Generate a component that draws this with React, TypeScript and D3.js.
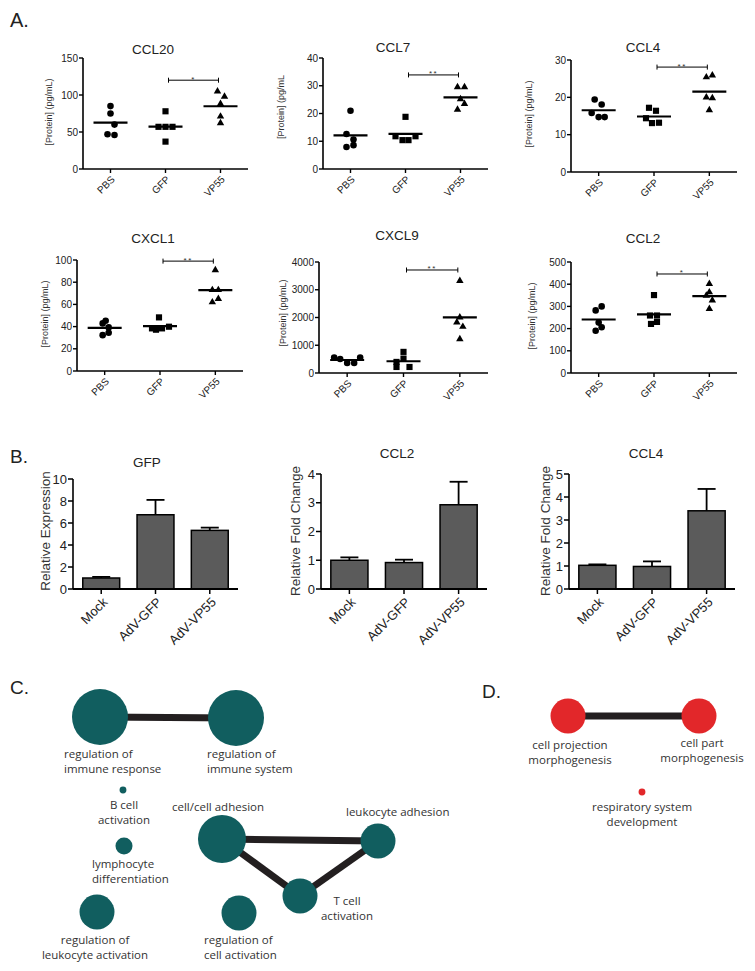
import React from 'react';
import * as d3 from 'd3';

// ---------------- DATA ----------------
// Panel A: cytokine protein levels (pg/mL), 5 mice per group
const groupsA = ['PBS', 'GFP', 'VP55'];
const titlesA = ['CCL20', 'CCL7', 'CCL4', 'CXCL1', 'CXCL9', 'CCL2'];
const yLabelsA = ['[Protein] (pg/mL)', '[Protein] (pg/mL', '[Protein] (pg/mL)', '[Protein] (pg/mL)', '[Protein] (pg/mL)', '[Protein] (pg/mL)'];
const yMaxA = [150, 40, 30, 100, 4000, 500];
const yStepA = [50, 10, 10, 20, 1000, 100];
const sigLevelA = [120, 33.9, 28.1, 99, 3712, 446];
const sigStarsA = ['*', '**', '**', '**', '**', '*'];

const ccl20PBS = [85, 75, 60, 47, 46];
const ccl20GFP = [78, 57, 57, 57, 37];
const ccl20VP55 = [105, 98, 88, 71, 62];
const ccl7PBS = [21, 12.6, 10.6, 8.6, 7.9];
const ccl7GFP = [18.8, 11.8, 10.4, 10.4, 11.8];
const ccl7VP55 = [29.5, 29.5, 25.2, 23.5, 21.4];
const ccl4PBS = [19.4, 18.1, 15.8, 14.7, 14.7];
const ccl4GFP = [17.2, 16.4, 14.4, 13.1, 13.2];
const ccl4VP55 = [25.4, 25.9, 20, 19.8, 16.6];
const cxcl1PBS = [45.3, 42.9, 39.3, 34.4, 32.3];
const cxcl1GFP = [48.3, 38.4, 37.2, 38.4, 39.9];
const cxcl1VP55 = [91, 73, 73, 65, 62];
const cxcl9PBS = [556, 507, 362, 362, 556];
const cxcl9GFP = [761, 399, 520, 217, 217];
const cxcl9VP55 = [3323, 2005, 1824, 1668, 1220];
const ccl2PBS = [282, 300, 227, 206, 190];
const ccl2GFP = [351, 259, 259, 221, 230];
const ccl2VP55 = [402, 364, 349, 327, 289];

const valuesA = [
  [ccl20PBS, ccl20GFP, ccl20VP55],
  [ccl7PBS, ccl7GFP, ccl7VP55],
  [ccl4PBS, ccl4GFP, ccl4VP55],
  [cxcl1PBS, cxcl1GFP, cxcl1VP55],
  [cxcl9PBS, cxcl9GFP, cxcl9VP55],
  [ccl2PBS, ccl2GFP, ccl2VP55],
];

// Panel B: qPCR relative expression
const groupsB = ['Mock', 'AdV-GFP', 'AdV-VP55'];
const titlesB = ['GFP', 'CCL2', 'CCL4'];
const yLabelsB = ['Relative Expression', 'Relative Fold Change', 'Relative Fold Change'];
const yMaxB = [10, 4, 5];
const yStepB = [2, 1, 1];
const gfpMean = [1.0, 6.75, 5.33];
const gfpErr = [0.1, 1.35, 0.25];
const ccl2Mean = [1.0, 0.92, 2.93];
const ccl2Err = [0.1, 0.1, 0.8];
const ccl4Mean = [1.03, 0.98, 3.4];
const ccl4Err = [0.04, 0.22, 0.95];
const meansB = [gfpMean, ccl2Mean, ccl4Mean];
const errsB = [gfpErr, ccl2Err, ccl4Err];

// Panels C & D: GO-term networks
const netIds = ['immResp', 'immSys', 'bCell', 'lymph', 'leukAct', 'cellAdh', 'leukAdh', 'tCell', 'cellAct', 'projMorph', 'partMorph', 'resp'];
const netLabels = [
  ['regulation of', 'immune response'],
  ['regulation of', 'immune system'],
  ['B cell', 'activation'],
  ['lymphocyte', 'differentiation'],
  ['regulation of', 'leukocyte activation'],
  ['cell/cell adhesion'],
  ['leukocyte adhesion'],
  ['T cell', 'activation'],
  ['regulation of', 'cell activation'],
  ['cell projection', 'morphogenesis'],
  ['cell part', 'morphogenesis'],
  ['respiratory system', 'development'],
];
const netSizes = [40, 40, 0.6, 3.7, 15.6, 29.4, 15.6, 15.6, 15.6, 15.6, 15.6, 0.6];
const netGroups = ['C', 'C', 'C', 'C', 'C', 'C', 'C', 'C', 'C', 'D', 'D', 'D'];
const netEdges = [['immResp', 'immSys'], ['cellAdh', 'leukAdh'], ['cellAdh', 'tCell'], ['tCell', 'leukAdh'], ['projMorph', 'partMorph']];

// ---------------- LAYOUT / STYLE ----------------
const FONT = 'Liberation Sans, Arial, sans-serif';
const FONT_NET = 'Open Sans, sans-serif';
const TEAL = '#115e5f';
const RED = '#e2272a';
const EDGE = '#231f20';
const BAR = '#5b5b5b';

const layoutA = [
  { x0: 83, x1: 248, yTop: 58, y0: 169, tx: 153, ty: 54, lx: 52, ly: 112 },
  { x0: 323, x1: 488, yTop: 58, y0: 169, tx: 393, ty: 52, lx: 284, ly: 107 },
  { x0: 571, x1: 737, yTop: 60, y0: 172, tx: 643, ty: 52, lx: 532, ly: 114 },
  { x0: 77, x1: 243, yTop: 260, y0: 371, tx: 153, ty: 243, lx: 48, ly: 314 },
  { x0: 319, x1: 488, yTop: 262, y0: 373, tx: 397, ty: 240, lx: 286, ly: 313 },
  { x0: 571, x1: 737, yTop: 262, y0: 373, tx: 643, ty: 243, lx: 535, ly: 316 },
];
// horizontal spread (px) of overlapping points
const jitterA = [
  [[0, 0, 4, -3, 4], [0, -7, 0, 7, 0], [-3, 4, 0, 0, 0]],
  [[0, -4, 3, 3, -4], [0, -10, -3, 3, 10], [-3, 4, 0, 4, -3]],
  [[-4, 3, -7, 0, 6], [-5, 2, -8, -2, 5], [-3, 3, -3, 3, 0]],
  [[1, -2, 4, 4, -2], [-1, -8, -4, 2, 9], [0, -3, 3, 3, -3]],
  [[-13, -7, 0, 7, 13], [0, -7, 0, -7, 6], [0, 0, -3, 3, 0]],
  [[-3, 3, 0, 3, -3], [0, -4, 3, -3, 3], [0, 0, -3, 3, 0]],
];

const layoutB = [
  { x0: 73, x1: 238, yTop: 479, y0: 589, tx: 147, ty: 467, lx: 50, ly: 531 },
  { x0: 321, x1: 487, yTop: 474, y0: 589, tx: 397, ty: 458, lx: 300, ly: 531 },
  { x0: 569, x1: 735, yTop: 474, y0: 589, tx: 646, ty: 458, lx: 550, ly: 531 },
];

const netLayout: Record<string, { x: number; y: number; anchor: string; lx: number; ly: number }> = {
  immResp: { x: 100, y: 717, anchor: 'start', lx: 64, ly: 758 },
  immSys: { x: 236, y: 718, anchor: 'start', lx: 207, ly: 758 },
  bCell: { x: 123, y: 790, anchor: 'middle', lx: 124, ly: 809 },
  lymph: { x: 124, y: 846, anchor: 'start', lx: 92, ly: 868 },
  leukAct: { x: 97, y: 912, anchor: 'middle', lx: 95, ly: 944 },
  cellAdh: { x: 222, y: 839, anchor: 'middle', lx: 218, ly: 811 },
  leukAdh: { x: 378, y: 841, anchor: 'start', lx: 346, ly: 816 },
  tCell: { x: 300, y: 896, anchor: 'middle', lx: 347, ly: 905 },
  cellAct: { x: 239, y: 913, anchor: 'start', lx: 204, ly: 944 },
  projMorph: { x: 568, y: 716, anchor: 'middle', lx: 570, ly: 749 },
  partMorph: { x: 699, y: 716, anchor: 'middle', lx: 702, ly: 747 },
  resp: { x: 642, y: 792, anchor: 'middle', lx: 642, ly: 811 },
};

const symbolTypes = [d3.symbolCircle, d3.symbolSquare, d3.symbolTriangle];
const symbolSizes = [34, 38, 24];

function ScatterPanel({ i }: { i: number }) {
  const L = layoutA[i];
  const x = d3.scalePoint<string>().domain(groupsA).range([L.x0, L.x1]).padding(0.5);
  const y = d3.scaleLinear().domain([0, yMaxA[i]]).range([L.y0, L.yTop]);
  const ticks = d3.range(0, yMaxA[i] + yStepA[i] / 2, yStepA[i]);
  const sx0 = (x('GFP') as number) + 3;
  const sx1 = (x('VP55') as number) - 2;
  const sy = y(sigLevelA[i]);
  return (
    <g>
      <text x={L.tx} y={L.ty} textAnchor="middle" fontSize={13.5} fill="#222">{titlesA[i]}</text>
      <text transform={`translate(${L.lx},${L.ly}) rotate(-90)`} textAnchor="middle" fontSize={9} fill="#333">{yLabelsA[i]}</text>
      {/* y axis */}
      <line x1={L.x0} x2={L.x0} y1={L.yTop} y2={L.y0} stroke="#000" strokeWidth={1.6} />
      {ticks.map((t) => (
        <g key={t}>
          <line x1={L.x0 - 4} x2={L.x0} y1={y(t)} y2={y(t)} stroke="#000" strokeWidth={1.4} />
          <text x={L.x0 - 5} y={y(t)} dy="0.35em" textAnchor="end" fontSize={10} fill="#222">{t}</text>
        </g>
      ))}
      {/* x axis */}
      <line x1={L.x0} x2={L.x1} y1={L.y0} y2={L.y0} stroke="#000" strokeWidth={1.6} />
      {groupsA.map((g) => {
        const cx = x(g) as number;
        return (
          <g key={g}>
            <line x1={cx} x2={cx} y1={L.y0} y2={L.y0 + 4} stroke="#000" strokeWidth={1.4} />
            <text transform={`translate(${cx + 5},${L.y0 + 11}) rotate(-45)`} textAnchor="end" fontSize={10} fill="#222">{g}</text>
          </g>
        );
      })}
      {/* points */}
      {groupsA.map((g, gi) => {
        const cx = x(g) as number;
        const vals = valuesA[i][gi];
        const m = d3.mean(vals) as number;
        const path = d3.symbol(symbolTypes[gi], symbolSizes[gi])() as string;
        return (
          <g key={g}>
            {vals.map((v, k) => (
              <path key={k} d={path} transform={`translate(${cx + jitterA[i][gi][k]},${y(v)})`} fill="#000" />
            ))}
            <line x1={cx - 17} x2={cx + 17} y1={y(m)} y2={y(m)} stroke="#000" strokeWidth={2.2} />
          </g>
        );
      })}
      {/* significance */}
      <line x1={sx0} x2={sx1} y1={sy} y2={sy} stroke="#000" strokeWidth={1} />
      <line x1={sx0} x2={sx0} y1={sy - 2.5} y2={sy + 2.5} stroke="#000" strokeWidth={1} />
      <line x1={sx1} x2={sx1} y1={sy - 2.5} y2={sy + 2.5} stroke="#000" strokeWidth={1} />
      <text x={(sx0 + sx1) / 2} y={sy + 1.5} textAnchor="middle" fontSize={8} letterSpacing={1.5} fill="#333">{sigStarsA[i]}</text>
    </g>
  );
}

function BarPanel({ i }: { i: number }) {
  const L = layoutB[i];
  const x = d3.scaleBand<string>().domain(groupsB).range([L.x0, L.x1]).paddingInner(0.32).paddingOuter(0.18);
  const y = d3.scaleLinear().domain([0, yMaxB[i]]).range([L.y0, L.yTop]);
  const ticks = d3.range(0, yMaxB[i] + yStepB[i] / 2, yStepB[i]);
  const bw = x.bandwidth();
  return (
    <g>
      <text x={L.tx} y={L.ty} textAnchor="middle" fontSize={13.5} fill="#222">{titlesB[i]}</text>
      <text transform={`translate(${L.lx},${L.ly}) rotate(-90)`} textAnchor="middle" fontSize={13.5} fill="#333">{yLabelsB[i]}</text>
      {groupsB.map((g, gi) => {
        const bx = x(g) as number;
        const cx = bx + bw / 2;
        const v = meansB[i][gi];
        const e = errsB[i][gi];
        return (
          <g key={g}>
            <line x1={cx} x2={cx} y1={y(v)} y2={y(v + e)} stroke="#000" strokeWidth={1.8} />
            <line x1={cx - 9} x2={cx + 9} y1={y(v + e)} y2={y(v + e)} stroke="#000" strokeWidth={1.8} />
            <rect x={bx} y={y(v)} width={bw} height={L.y0 - y(v)} fill={BAR} stroke="#000" strokeWidth={1.5} />
          </g>
        );
      })}
      <line x1={L.x0} x2={L.x0} y1={L.yTop} y2={L.y0} stroke="#000" strokeWidth={1.6} />
      {ticks.map((t) => (
        <g key={t}>
          <line x1={L.x0 - 5} x2={L.x0} y1={y(t)} y2={y(t)} stroke="#000" strokeWidth={1.5} />
          <text x={L.x0 - 6} y={y(t)} dy="0.36em" textAnchor="end" fontSize={13} fill="#222">{t}</text>
        </g>
      ))}
      <line x1={L.x0} x2={L.x1} y1={L.y0} y2={L.y0} stroke="#000" strokeWidth={1.8} />
      {groupsB.map((g) => {
        const cx = (x(g) as number) + bw / 2;
        return (
          <g key={g}>
            <line x1={cx} x2={cx} y1={L.y0} y2={L.y0 + 5} stroke="#000" strokeWidth={1.5} />
            <text transform={`translate(${cx + 7},${L.y0 + 14}) rotate(-45)`} textAnchor="end" fontSize={13} fill="#222">{g}</text>
          </g>
        );
      })}
    </g>
  );
}

function Network() {
  const r = d3.scaleSqrt().domain([0, 40]).range([0, 28]);
  const idx = new Map(netIds.map((id, k) => [id, k]));
  return (
    <g fontFamily={FONT_NET}>
      {netEdges.map(([a, b], k) => {
        const A = netLayout[a];
        const B = netLayout[b];
        return <line key={k} x1={A.x} y1={A.y} x2={B.x} y2={B.y} stroke={EDGE} strokeWidth={7} />;
      })}
      {netIds.map((id, k) => {
        const P = netLayout[id];
        return <circle key={id} cx={P.x} cy={P.y} r={r(netSizes[k])} fill={netGroups[k] === 'C' ? TEAL : RED} />;
      })}
      {netIds.map((id) => {
        const P = netLayout[id];
        const k = idx.get(id) as number;
        return (
          <text key={id} x={P.lx} y={P.ly} textAnchor={P.anchor as any} fontSize={11.5} fill="#333">
            {netLabels[k].map((line, li) => (
              <tspan key={li} x={P.lx} dy={li === 0 ? 0 : 15}>{line}</tspan>
            ))}
          </text>
        );
      })}
    </g>
  );
}

export default function App() {
  return (
    <svg width={755} height={971} style={{ position: 'absolute', left: 0, top: 0 }} fontFamily={FONT}>
      <rect width={755} height={971} fill="#fff" />
      <text x={10} y={27} fontSize={20} fill="#222">A.</text>
      <text x={10} y={463} fontSize={19} fill="#222">B.</text>
      <text x={10} y={694} fontSize={19} fill="#222">C.</text>
      <text x={482} y={698} fontSize={19} fill="#222">D.</text>
      {titlesA.map((_, i) => <ScatterPanel key={i} i={i} />)}
      {titlesB.map((_, i) => <BarPanel key={i} i={i} />)}
      <Network />
    </svg>
  );
}
